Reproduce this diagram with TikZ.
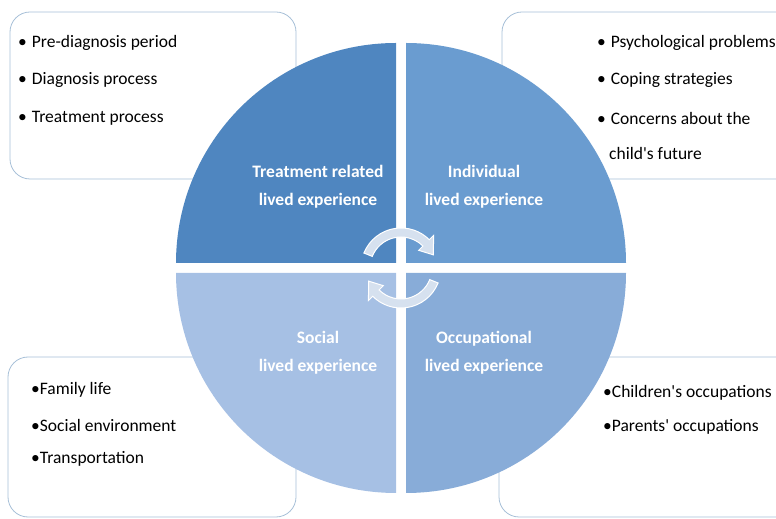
\documentclass[tikz,border=0pt]{standalone}
\usepackage{fontspec}
\setmainfont{Carlito}
\usepackage{tikz}
\usepackage{xcolor}
\definecolor{qdblue}{RGB}{79,134,192}
\definecolor{qmblue}{RGB}{106,156,208}
\definecolor{qlblue}{RGB}{136,172,216}
\definecolor{qpblue}{RGB}{166,192,228}
\definecolor{boxline}{RGB}{167,192,216}
\definecolor{cyclefill}{RGB}{214,225,239}
\tikzstyle{topicbox} = [draw=boxline, line width=0.8pt, rounded corners=20pt, fill=white]
\tikzstyle{quadlabel} = [text=white, font=\fontsize{17.5}{28}\selectfont\bfseries, align=center]
\tikzstyle{item} = [anchor=west, inner sep=0pt, font=\fontsize{17.5}{21}\selectfont]
\tikzstyle{cyclearrow} = [fill=cyclefill, draw=white, line width=1pt]

\begin{document}
\begin{tikzpicture}[x=1pt, y=1pt]
\useasboundingbox (0,0) rectangle (776,519);
\clip (0,0) rectangle (776,519);
% Topic boxes
\draw[topicbox] (10,340) rectangle (296,507);
\draw[topicbox] (502,340) rectangle (800,507);
\draw[topicbox] (8,2) rectangle (296,162);
\draw[topicbox] (499,2) rectangle (800,162);
% Quadrants
\fill[qdblue] (396,256) -- ++(-220,0) arc[start angle=180, end angle=90, radius=220] -- cycle;
\fill[qmblue] (406,256) -- ++(0,220) arc[start angle=90, end angle=0, radius=220] -- cycle;
\fill[qpblue] (396,246) -- ++(0,-220) arc[start angle=270, end angle=180, radius=220] -- cycle;
\fill[qlblue] (406,246) -- ++(220,0) arc[start angle=0, end angle=-90, radius=220] -- cycle;
% Cycle arrows
\begin{scope}[shift={(401,251)}]
\draw[cyclearrow] (158:40) arc[start angle=158, end angle=45, radius=40] -- (45:46) -- (22:35) -- (45:25) -- (45:31) arc[start angle=45, end angle=158, radius=31] -- cycle;
\draw[cyclearrow] (-22:40) arc[start angle=-22, end angle=-135, radius=40] -- (-135:46) -- (-158:35) -- (-135:25) -- (-135:31) arc[start angle=-135, end angle=-22, radius=31] -- cycle;
\end{scope}
% Quadrant labels
\node[quadlabel] (treat) at (318,332) {Treatment related\\lived experience};
\node[quadlabel] (indiv) at (484,332) {Individual\\lived experience};
\node[quadlabel] (social) at (318,166) {Social\\lived experience};
\node[quadlabel] (occup) at (484,166) {Occupational\\lived experience};
% Treatment items
\node[item] (prediag) at (18,476) {\textbullet\hspace{5pt}Pre-diagnosis period};
\node[item] (diag) at (18,439) {\textbullet\hspace{5pt}Diagnosis process};
\node[item] (treatp) at (18,401) {\textbullet\hspace{5pt}Treatment process};
% Individual items
\node[item] (psych) at (597,476) {\textbullet\hspace{5pt}Psychological problems};
\node[item] (coping) at (597,439) {\textbullet\hspace{5pt}Coping strategies};
\node[item] (concern) at (597,401) {\textbullet\hspace{5pt}Concerns about the};
\node[item] (future) at (609,366) {child\textquotesingle s future};
% Social items
\node[item] (family) at (31,129) {\textbullet Family life};
\node[item] (socenv) at (31,94) {\textbullet Social environment};
\node[item] (transp) at (31,60) {\textbullet Transportation};
% Occupational items
\node[item] (childocc) at (603,126) {\textbullet Children\textquotesingle s occupations};
\node[item] (parentocc) at (603,92) {\textbullet Parents\textquotesingle\ occupations};
\end{tikzpicture}
\end{document}
